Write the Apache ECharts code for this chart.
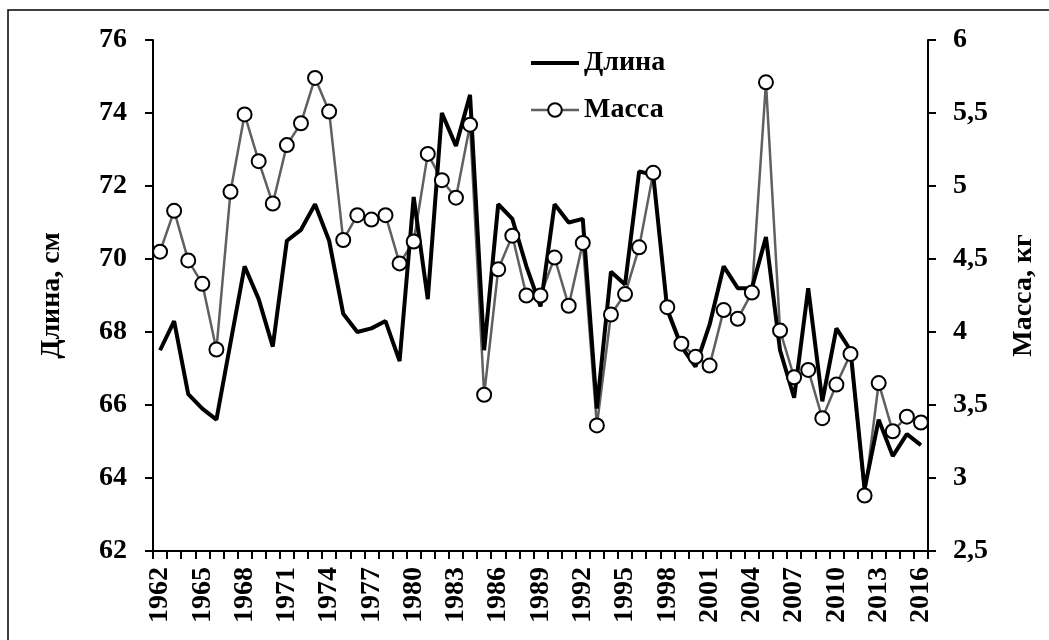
<!DOCTYPE html>
<html>
<head>
<meta charset="utf-8">
<script src="https://cdn.jsdelivr.net/npm/echarts@6/dist/echarts.min.js"></script>
<style>
  html, body { margin: 0; padding: 0; background: #fff; }
  #chart { width: 1049px; height: 640px; }
</style>
</head>
<body>
<div id="chart"></div>
<script>
// Years of observation
const years = [];
for (let y = 1962; y <= 2016; y++) years.push(String(y));

// Mean length, cm (left axis)
const lengthCm = [
  67.5, 68.3, 66.3, 65.9, 65.6, 67.7, 69.8, 68.9, 67.6, 70.5,
  70.8, 71.5, 70.5, 68.5, 68.0, 68.1, 68.3, 67.2, 71.7, 68.9,
  74.0, 73.1, 74.5, 67.5, 71.5, 71.1, 69.8, 68.7, 71.5, 71.0,
  71.1, 65.9, 69.65, 69.3, 72.4, 72.3, 68.6, 67.6, 67.05, 68.2,
  69.8, 69.2, 69.2, 70.6, 67.5, 66.2, 69.2, 66.1, 68.1, 67.5,
  63.7, 65.6, 64.6, 65.2, 64.9
];

// Mean mass, kg (right axis)
const massKg = [
  4.55, 4.83, 4.49, 4.33, 3.88, 4.96, 5.49, 5.17, 4.88, 5.28,
  5.43, 5.74, 5.51, 4.63, 4.80, 4.77, 4.80, 4.47, 4.62, 5.22,
  5.04, 4.92, 5.42, 3.57, 4.43, 4.66, 4.25, 4.25, 4.51, 4.18,
  4.61, 3.36, 4.12, 4.26, 4.58, 5.09, 4.17, 3.92, 3.83, 3.77,
  4.15, 4.09, 4.27, 5.71, 4.01, 3.69, 3.74, 3.41, 3.64, 3.85,
  2.88, 3.65, 3.32, 3.42, 3.38
];

const FONT = '"Liberation Serif", "Times New Roman", serif';
const labelStyle = { fontFamily: FONT, fontWeight: 'bold', fontSize: 28, color: '#000' };

const chart = echarts.init(document.getElementById('chart'), null, { renderer: 'canvas' });

chart.setOption({
  animation: false,
  backgroundColor: '#fff',
  graphic: [{
    type: 'rect',
    shape: { x: 8, y: 10, width: 1100, height: 700 },
    style: { fill: 'none', stroke: '#000', lineWidth: 1.5 },
    silent: true
  }],
  grid: { left: 153, right: 121, top: 40, bottom: 89, containLabel: false },
  legend: {
    orient: 'vertical',
    left: 529,
    top: 49,
    padding: 0,
    itemWidth: 48,
    itemHeight: 17,
    itemGap: 19,
    data: [
      { name: 'Длина', itemStyle: { opacity: 0 }, lineStyle: { width: 4, color: '#000' } },
      { name: 'Масса', lineStyle: { width: 2.5, color: '#606060' } }
    ],
    textStyle: labelStyle
  },
  xAxis: {
    type: 'category',
    data: years,
    boundaryGap: true,
    axisLine: { lineStyle: { color: '#000', width: 2 } },
    axisTick: { show: true, interval: 0, length: 8, lineStyle: { color: '#000', width: 2 } },
    axisLabel: Object.assign({ interval: 2, rotate: 90, margin: 16 }, labelStyle),
    splitLine: { show: false }
  },
  yAxis: [{
    type: 'value',
    min: 62, max: 76, interval: 2,
    name: 'Длина, см',
    nameLocation: 'middle',
    nameRotate: 90,
    nameGap: 87,
    nameTextStyle: labelStyle,
    axisLine: { show: true, lineStyle: { color: '#000', width: 2 } },
    axisTick: { show: true, length: 8, lineStyle: { color: '#000', width: 2 } },
    axisLabel: Object.assign({ margin: 26 }, labelStyle),
    splitLine: { show: false }
  }, {
    type: 'value',
    position: 'right',
    min: 2.5, max: 6, interval: 0.5,
    name: 'Масса, кг',
    nameLocation: 'middle',
    nameRotate: 90,
    nameGap: 82,
    nameTextStyle: labelStyle,
    axisLine: { show: true, lineStyle: { color: '#000', width: 2 } },
    axisTick: { show: true, length: 8, lineStyle: { color: '#000', width: 2 } },
    axisLabel: Object.assign({
      margin: 25,
      formatter: v => String(v).replace('.', ',')
    }, labelStyle),
    splitLine: { show: false }
  }],
  series: [
    {
      // grey connecting line for mass, kept beneath the length line
      name: 'Масса',
      type: 'line',
      yAxisIndex: 1,
      data: massKg,
      symbol: 'circle',
      symbolSize: 14,
      showSymbol: false,
      lineStyle: { color: '#606060', width: 2.5 },
      itemStyle: { color: '#fff', borderColor: '#000', borderWidth: 2 },
      z: 2
    },
    {
      name: 'Длина',
      type: 'line',
      yAxisIndex: 0,
      data: lengthCm,
      symbol: 'none',
      lineStyle: { color: '#000', width: 4 },
      itemStyle: { color: '#000' },
      z: 3
    },
    {
      // open circle markers for mass, drawn on top
      name: 'Масса',
      type: 'line',
      yAxisIndex: 1,
      data: massKg,
      symbol: 'circle',
      symbolSize: 14,
      showSymbol: true,
      showAllSymbol: true,
      lineStyle: { width: 0, opacity: 0 },
      itemStyle: { color: '#fff', borderColor: '#000', borderWidth: 2 },
      z: 4
    }
  ]
});
</script>
</body>
</html>
